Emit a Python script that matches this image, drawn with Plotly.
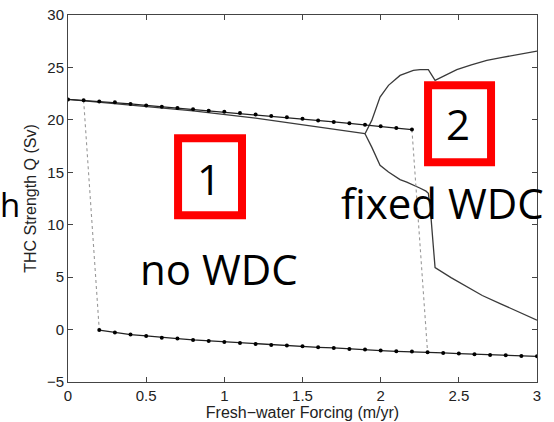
import plotly.graph_objects as go

# ---- data ----
# upper stable branch with markers (no WDC)
up_dot_x = [0.0, 0.1, 0.2, 0.3, 0.4, 0.5, 0.6, 0.7, 0.8, 0.9, 1.0, 1.1, 1.2,
            1.3, 1.4, 1.5, 1.6, 1.7, 1.8, 1.9, 2.0, 2.1, 2.2]
up_dot_y = [21.95, 21.86, 21.76, 21.67, 21.52, 21.38, 21.25, 21.12, 21.0, 20.88,
            20.78, 20.65, 20.5, 20.36, 20.24, 20.11, 19.95, 19.8, 19.67, 19.54,
            19.38, 19.22, 19.07]

# lower stable branch with markers
low_dot_x = [0.2, 0.3, 0.4, 0.5, 0.6, 0.7, 0.8, 0.9, 1.0, 1.1, 1.2, 1.3, 1.4, 1.5,
             1.6, 1.7, 1.8, 1.9, 2.0, 2.1, 2.2, 2.3, 2.4, 2.5, 2.6, 2.7, 2.8, 2.9, 3.0]
low_dot_y = [-0.05, -0.29, -0.48, -0.61, -0.77, -0.86, -0.99, -1.08, -1.18, -1.27,
             -1.37, -1.46, -1.53, -1.59, -1.69, -1.75, -1.85, -1.91, -2.0, -2.07,
             -2.1, -2.16, -2.23, -2.29, -2.35, -2.42, -2.45, -2.52, -2.55]

# solid branch (fixed WDC) before bifurcation
fix_x = [0.0, 0.4, 0.8, 1.2, 1.6, 1.9]
fix_y = [21.95, 21.42, 20.85, 20.17, 19.35, 18.68]

# upper branch after bifurcation
bu_x = [1.90, 1.943, 1.996, 2.05, 2.124, 2.209, 2.252, 2.305, 2.348, 2.42, 2.487,
        2.58, 2.679, 2.77, 2.85, 2.93, 3.0]
bu_y = [18.68, 19.95, 22.17, 23.29, 24.24, 24.72, 24.79, 24.79, 23.77, 24.3, 24.79,
        25.25, 25.67, 25.93, 26.15, 26.38, 26.56]

# lower branch after bifurcation
bl_x = [1.90, 1.943, 1.996, 2.05, 2.124, 2.167, 2.25, 2.29, 2.305, 2.32, 2.337,
        2.348, 2.45, 2.55, 2.65, 2.764, 2.88, 3.0]
bl_y = [18.68, 17.4, 15.66, 15.02, 14.3, 14.07, 13.5, 13.2, 13.0, 11.06, 7.9,
        5.91, 4.95, 4.06, 3.25, 2.48, 1.7, 0.89]

# transitions (dotted)
tr1_x = [0.1, 0.2]
tr1_y = [21.86, -0.05]
tr2_x = [2.2, 2.3]
tr2_y = [19.07, -2.16]

x_ticks = [0, 0.5, 1, 1.5, 2, 2.5, 3]
x_tick_labels = ["0", "0.5", "1", "1.5", "2", "2.5", "3"]
y_ticks = [-5, 0, 5, 10, 15, 20, 25, 30]
y_tick_labels = ["\u22125", "0", "5", "10", "15", "20", "25", "30"]

line_col = "#3a3a3a"

fig = go.Figure()
for xs, ys in [(fix_x, fix_y), (bu_x, bu_y), (bl_x, bl_y)]:
    fig.add_trace(go.Scatter(x=xs, y=ys, mode="lines",
                             line=dict(color=line_col, width=1.3),
                             showlegend=False, hoverinfo="skip"))
for xs, ys in [(tr1_x, tr1_y), (tr2_x, tr2_y)]:
    fig.add_trace(go.Scatter(x=xs, y=ys, mode="lines",
                             line=dict(color="#999999", width=1.1, dash="dot"),
                             showlegend=False, hoverinfo="skip"))
for xs, ys in [(up_dot_x, up_dot_y), (low_dot_x, low_dot_y)]:
    fig.add_trace(go.Scatter(x=xs, y=ys, mode="lines+markers",
                             line=dict(color="#222222", width=1.3),
                             marker=dict(color="black", size=4),
                             showlegend=False, hoverinfo="skip"))

axis_font = dict(family="Liberation Sans, Arial, sans-serif", size=15, color="#222")

fig.update_xaxes(range=[0, 3], tickvals=x_ticks, ticktext=x_tick_labels,
                 showgrid=False, zeroline=False, showline=True, linecolor="#444",
                 linewidth=1, mirror="ticks", ticks="inside", ticklen=5,
                 tickcolor="#444", tickfont=axis_font,
                 title=dict(text="Fresh\u2212water Forcing (m/yr)",
                            font=dict(family="Liberation Sans, Arial, sans-serif",
                                      size=16, color="#222"), standoff=2))
fig.update_yaxes(range=[-5, 30], tickvals=y_ticks, ticktext=y_tick_labels,
                 showgrid=False, zeroline=False, showline=True, linecolor="#444",
                 linewidth=1, mirror="ticks", ticks="inside", ticklen=5,
                 tickcolor="#444", tickfont=axis_font,
                 title=dict(text="THC Strength Q (Sv)",
                            font=dict(family="Liberation Sans, Arial, sans-serif",
                                      size=16, color="#222"), standoff=6))

big_font = dict(family="Open Sans, sans-serif", size=42, color="black")

# red boxes
fig.add_shape(type="rect", xref="x", yref="y", x0=0.704, x1=1.113, y0=10.9, y1=18.24,
              line=dict(color="#ff0000", width=8), fillcolor="rgba(0,0,0,0)")
fig.add_shape(type="rect", xref="x", yref="y", x0=2.303, x1=2.706, y0=15.95, y1=23.29,
              line=dict(color="#ff0000", width=8), fillcolor="rgba(0,0,0,0)")

annos = [
    dict(text="1", x=0.904, y=14.42, xref="x", yref="y"),
    dict(text="2", x=2.495, y=19.61, xref="x", yref="y"),
    dict(text="no WDC", x=0.966, y=5.84, xref="x", yref="y"),
    dict(text="fixed WDC", x=2.393, y=12.14, xref="x", yref="y"),
]
for a in annos:
    fig.add_annotation(showarrow=False, font=big_font, xanchor="center",
                       yanchor="middle", **a)
fig.add_annotation(text="h", x=-0.1493, y=11.9, xref="paper", yref="y",
                   showarrow=False, xanchor="left", yanchor="middle",
                   font=dict(family="Open Sans, sans-serif", size=33, color="black"))

fig.update_layout(width=554, height=422,
                  margin=dict(l=68, r=17, t=15, b=40, autoexpand=False),
                  paper_bgcolor="white", plot_bgcolor="white")

fig.write_html("out.html")
